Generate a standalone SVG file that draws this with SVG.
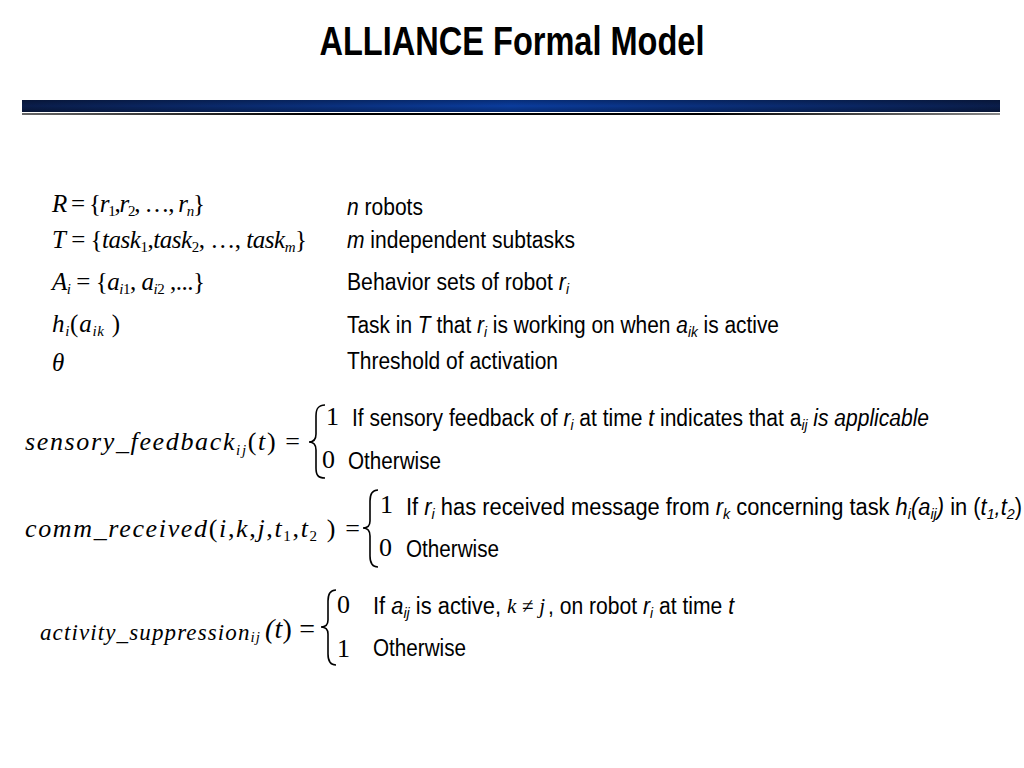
<svg xmlns="http://www.w3.org/2000/svg" width="1024" height="768" viewBox="0 0 1024 768">
<defs>
<linearGradient id="bar" x1="0" y1="0" x2="1" y2="0">
<stop offset="0" stop-color="#0a1d4a"/>
<stop offset="0.5" stop-color="#0a3c9e"/>
<stop offset="1" stop-color="#0a1d4a"/>
</linearGradient>
<linearGradient id="barv" x1="0" y1="0" x2="0" y2="1">
<stop offset="0" stop-color="#000" stop-opacity="0.25"/>
<stop offset="0.5" stop-color="#000" stop-opacity="0"/>
<stop offset="1" stop-color="#000" stop-opacity="0.3"/>
</linearGradient>
<linearGradient id="line" x1="0" y1="0" x2="1" y2="0">
<stop offset="0" stop-color="#666"/>
<stop offset="0.3" stop-color="#000"/>
<stop offset="0.7" stop-color="#000"/>
<stop offset="1" stop-color="#888"/>
</linearGradient>
</defs>
<style>
.t{font-family:"Liberation Sans",Arial,sans-serif;font-size:23px;fill:#000}
.m{font-family:"Liberation Serif","Times New Roman",serif;font-size:25px;fill:#000}
.i{font-style:italic}
.s{font-size:15px}
.br{fill:none;stroke:#000;stroke-width:1.6}
</style>
<rect width="1024" height="768" fill="#fff"/>
<g id="title">
<text x="512" y="55" text-anchor="middle" font-family="Liberation Sans,Arial,sans-serif" font-weight="bold" font-size="40" textLength="385" lengthAdjust="spacingAndGlyphs">ALLIANCE Formal Model</text>
<rect x="22" y="100" width="978" height="12" fill="url(#bar)"/>
<rect x="22" y="100" width="978" height="12" fill="url(#barv)"/>
<rect x="22" y="113" width="978" height="2" fill="url(#line)"/>
</g>
<g id="definitions">
<text class="m" x="52" y="212" textLength="153"><tspan class="i">R</tspan> = {<tspan class="i">r</tspan><tspan class="s" dy="4">1</tspan><tspan dy="-4">,</tspan><tspan class="i">r</tspan><tspan class="s" dy="4">2</tspan><tspan dy="-4">, …, </tspan><tspan class="i">r</tspan><tspan class="s i" dy="4">n</tspan><tspan dy="-4">}</tspan></text>
<text class="m" x="52" y="248" textLength="255"><tspan class="i">T</tspan> = {<tspan class="i">task</tspan><tspan class="s" dy="4">1</tspan><tspan dy="-4">,</tspan><tspan class="i">task</tspan><tspan class="s" dy="4">2</tspan><tspan dy="-4">, …, </tspan><tspan class="i">task</tspan><tspan class="s i" dy="4">m</tspan><tspan dy="-4">}</tspan></text>
<text class="m" x="52" y="290" textLength="153"><tspan class="i">A</tspan><tspan class="s i" dy="4">i</tspan><tspan dy="-4"> = {</tspan><tspan class="i">a</tspan><tspan class="s" dy="4"><tspan class="i">i</tspan>1</tspan><tspan dy="-4">, </tspan><tspan class="i">a</tspan><tspan class="s" dy="4"><tspan class="i">i</tspan>2</tspan><tspan dy="-4"> ,...}</tspan></text>
<text class="m" x="52" y="332" textLength="68"><tspan class="i">h</tspan><tspan class="s i" dy="4">i</tspan><tspan dy="-4">(</tspan><tspan class="i">a</tspan><tspan class="s i" dy="4">ik</tspan><tspan dy="-4"> )</tspan></text>
<text class="m i" x="52" y="371">θ</text>

<text class="t" x="347" y="215" textLength="76" lengthAdjust="spacingAndGlyphs"><tspan class="i">n</tspan> robots</text>
<text class="t" x="347" y="248" textLength="228" lengthAdjust="spacingAndGlyphs"><tspan class="i">m</tspan> independent subtasks</text>
<text class="t" x="347" y="290" textLength="222" lengthAdjust="spacingAndGlyphs">Behavior sets of robot <tspan class="i">r</tspan><tspan class="i s" dy="4">i</tspan></text>
<text class="t" x="347" y="333" textLength="432" lengthAdjust="spacingAndGlyphs">Task in <tspan class="i">T</tspan> that <tspan class="i">r</tspan><tspan class="i s" dy="4">i</tspan><tspan dy="-4"> is working on when </tspan><tspan class="i">a</tspan><tspan class="i s" dy="4">ik</tspan><tspan dy="-4"> is active</tspan></text>
<text class="t" x="347" y="369" textLength="211" lengthAdjust="spacingAndGlyphs">Threshold of activation</text>
</g>
<g id="sensory_feedback">
<text class="m i" x="25" y="450" style="font-size:26px" textLength="275">sensory_feedback<tspan class="s" dy="5">ij</tspan><tspan dy="-5" font-style="normal">(</tspan>t<tspan font-style="normal">) =</tspan></text>
<path class="br" d="M325,405 C318,405 316,409 316,416 L316,434 C316,439 314,442 309,442 C314,442 316,445 316,450 L316,468 C316,475 318,478 325,478"/>
<text class="m" x="326" y="425" style="font-size:26px">1</text>
<text class="m" x="322" y="468" style="font-size:26px">0</text>
<text class="t" x="352" y="426" textLength="577" lengthAdjust="spacingAndGlyphs">If sensory feedback of <tspan class="i">r</tspan><tspan class="i s" dy="4">i</tspan><tspan dy="-4"> at time </tspan><tspan class="i">t</tspan> indicates that a<tspan class="i s" dy="4">ij</tspan><tspan dy="-4" class="i"> is applicable</tspan></text>
<text class="t" x="348" y="469" textLength="93" lengthAdjust="spacingAndGlyphs">Otherwise</text>
</g>
<g id="comm_received">
<text class="m i" x="25" y="537" style="font-size:26px" textLength="335">comm_received<tspan font-style="normal">(</tspan>i<tspan font-style="normal">,</tspan>k<tspan font-style="normal">,</tspan>j<tspan font-style="normal">,</tspan>t<tspan class="s" font-style="normal" dy="4">1</tspan><tspan dy="-4" font-style="normal">,</tspan>t<tspan class="s" font-style="normal" dy="4">2</tspan><tspan dy="-4" font-style="normal"> ) =</tspan></text>
<path class="br" d="M378,490 C372,490 370,494 370,501 L370,521 C370,526 368,528 363,528 C368,528 370,531 370,536 L370,556 C370,563 372,567 378,567"/>
<text class="m" x="380" y="513" style="font-size:26px">1</text>
<text class="m" x="379" y="556" style="font-size:26px">0</text>
<text class="t" x="406" y="515" textLength="616" lengthAdjust="spacingAndGlyphs">If <tspan class="i">r</tspan><tspan class="i s" dy="4">i</tspan><tspan dy="-4"> has received message from </tspan><tspan class="i">r</tspan><tspan class="i s" dy="4">k</tspan><tspan dy="-4"> concerning task </tspan><tspan class="i">h</tspan><tspan class="i s" dy="4">i</tspan><tspan dy="-4" class="i">(a</tspan><tspan class="i s" dy="4">ij</tspan><tspan dy="-4" class="i">)</tspan> in (<tspan class="i">t</tspan><tspan class="i s" dy="4">1</tspan><tspan dy="-4" class="i">,t</tspan><tspan class="i s" dy="4">2</tspan><tspan dy="-4">)</tspan></text>
<text class="t" x="406" y="557" textLength="93" lengthAdjust="spacingAndGlyphs">Otherwise</text>
</g>
<g id="activity_suppression">
<text class="m i" x="40" y="640" style="font-size:23px" textLength="220">activity_suppression<tspan class="s" dy="2">ij</tspan></text>
<text class="m" x="265" y="638" style="font-size:28px" textLength="50"><tspan class="i">(t</tspan>) =</text>
<path class="br" d="M336,590 C330,590 328,594 328,601 L328,620 C328,624 326,627 321,627 C326,627 328,630 328,634 L328,654 C328,661 330,665 336,665"/>
<text class="m" x="337" y="613" style="font-size:26px">0</text>
<text class="m" x="337" y="657" style="font-size:26px">1</text>
<text class="t" x="373" y="614" textLength="128" lengthAdjust="spacingAndGlyphs">If <tspan class="i">a</tspan><tspan class="i s" dy="4">ij</tspan><tspan dy="-4"> is active,</tspan></text>
<text class="m i" x="507" y="613" style="font-size:21px" textLength="38">k <tspan font-style="normal">≠</tspan> j</text>
<text class="t" x="548" y="614" textLength="186" lengthAdjust="spacingAndGlyphs">, on robot <tspan class="i">r</tspan><tspan class="i s" dy="4">i</tspan><tspan dy="-4"> at time </tspan><tspan class="i">t</tspan></text>
<text class="t" x="373" y="656" textLength="93" lengthAdjust="spacingAndGlyphs">Otherwise</text>
</g>
</svg>
